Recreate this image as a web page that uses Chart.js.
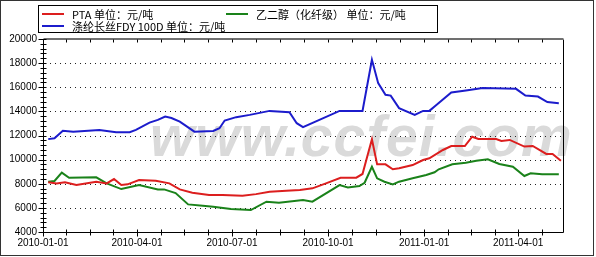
<!DOCTYPE html>
<html>
<head>
<meta charset="utf-8">
<script src="https://cdn.jsdelivr.net/npm/chart.js@4"></script>
<style>
  html, body { margin: 0; padding: 0; background: #fff; }
  #wrap { position: relative; width: 596px; height: 257px; overflow: hidden; }
  #mark {
    position: absolute; left: 150px; top: 103px; z-index: 0;
    font: italic bold 57px "Liberation Sans", Arial, sans-serif;
    color: #dadada; white-space: nowrap; letter-spacing: 1px;
  }
  #chart { position: absolute; left: 0; top: 0; z-index: 1; }
  #legend {
    position: absolute; left: 38px; top: 5px; width: 398px; height: 26px; z-index: 2;
    border: 1px solid #000; background: #fff;
    font: 11px "Noto Sans CJK SC", sans-serif; color: #000;
  }
  .item { position: absolute; height: 12px; line-height: 12px; white-space: nowrap; }
  .item i { position: absolute; left: 0; top: 5px; width: 22px; height: 2px; }
  .item span { position: absolute; left: 30px; top: 0; }
</style>
</head>
<body>
<div id="wrap">
  <div id="mark">www.ccfei.com</div>
  <canvas id="chart" width="596" height="257"></canvas>
  <div id="legend"></div>
</div>
<script>
// days are counted from 2010-01-01
const START = Date.UTC(2010, 0, 1);
const dayOf = (s) => {
  const p = s.split('-').map(Number);
  return (Date.UTC(p[0], p[1] - 1, p[2]) - START) / 86400000;
};

const seriesNames = ['PTA 单位：元/吨', '乙二醇（化纤级） 单位：元/吨', '涤纶长丝FDY 100D 单位：元/吨'];
const seriesColors = ['#dc1e1e', '#1a821a', '#1c1ccc'];

const ptaDates = ['2010-01-06', '2010-01-14', '2010-01-22', '2010-02-02', '2010-02-21', '2010-03-03', '2010-03-10',
  '2010-03-17', '2010-03-23', '2010-04-03', '2010-04-19', '2010-05-02', '2010-05-12', '2010-05-24', '2010-06-09',
  '2010-06-22', '2010-07-11', '2010-07-24', '2010-08-06', '2010-08-22', '2010-09-04', '2010-09-16', '2010-09-29',
  '2010-10-13', '2010-10-28', '2010-11-03', '2010-11-12', '2010-11-17', '2010-11-25', '2010-12-02', '2010-12-08',
  '2010-12-21', '2010-12-31', '2011-01-06', '2011-01-19', '2011-01-27', '2011-02-09', '2011-02-16', '2011-02-22',
  '2011-03-11', '2011-03-16', '2011-03-24', '2011-04-07', '2011-04-15', '2011-04-28', '2011-05-04', '2011-05-12'];
const ptaValues = [8120, 8030, 8120, 7890, 8170, 8030, 8390,
  7890, 7950, 8310, 8250, 8030, 7530, 7250, 7060,
  7060, 7000, 7140, 7330, 7420, 7480, 7620, 8030,
  8500, 8500, 8810, 11690, 9610, 9610, 9200, 9280,
  9550, 9970, 10110, 10800, 11130, 11130, 11900, 11710,
  11710, 11550, 11630, 11080, 11130, 10470, 10470, 9910];

const megDates = ['2010-01-06', '2010-01-12', '2010-01-19', '2010-01-26', '2010-02-21', '2010-03-03', '2010-03-17',
  '2010-04-03', '2010-04-21', '2010-04-27', '2010-05-08', '2010-05-20', '2010-06-03', '2010-06-13', '2010-06-30',
  '2010-07-19', '2010-08-03', '2010-08-15', '2010-09-07', '2010-09-16', '2010-10-12', '2010-10-20', '2010-10-31',
  '2010-11-05', '2010-11-12', '2010-11-17', '2010-11-24', '2010-12-02', '2010-12-08', '2010-12-21', '2011-01-03',
  '2011-01-11', '2011-01-15', '2011-01-28', '2011-02-10', '2011-02-20', '2011-03-03', '2011-03-14', '2011-03-27',
  '2011-04-07', '2011-04-13', '2011-04-24', '2011-05-10'];
const megValues = [8170, 8230, 8920, 8500, 8530, 8030, 7560,
  7890, 7530, 7530, 7230, 6290, 6170, 6090, 5900,
  5820, 6510, 6420, 6650, 6510, 7890, 7700, 7810,
  8080, 9410, 8450, 8170, 7950, 8170, 8450, 8720,
  8950, 9200, 9610, 9750, 9910, 10030, 9640, 9410,
  8640, 8860, 8780, 8780];

const fdyDates = ['2010-01-06', '2010-01-12', '2010-01-20', '2010-01-30', '2010-02-24', '2010-03-12', '2010-03-25',
  '2010-03-31', '2010-04-13', '2010-04-21', '2010-04-28', '2010-05-04', '2010-05-12', '2010-05-26', '2010-06-13',
  '2010-06-19', '2010-06-24', '2010-07-05', '2010-07-18', '2010-08-06', '2010-08-25', '2010-09-01', '2010-09-07',
  '2010-10-12', '2010-11-03', '2010-11-12', '2010-11-18', '2010-11-25', '2010-11-30', '2010-12-08', '2010-12-23',
  '2010-12-31', '2011-01-06', '2011-01-11', '2011-01-27', '2011-02-10', '2011-02-26', '2011-03-30', '2011-04-08',
  '2011-04-20', '2011-04-29', '2011-05-10'];
const fdyValues = [11700, 11770, 12400, 12320, 12460, 12270, 12270,
  12460, 13070, 13290, 13570, 13450, 13150, 12320, 12380,
  12600, 13240, 13520, 13710, 14040, 13930, 13020, 12700,
  14040, 14040, 18280, 16340, 15370, 15310, 14270, 13710,
  14040, 14040, 14400, 15560, 15730, 15930, 15870, 15310,
  15230, 14770, 14680];

const tickDates = ['2010-01-01', '2010-04-01', '2010-07-01', '2010-10-01', '2011-01-01', '2011-04-01'];
const yTicks = [4000, 6000, 8000, 10000, 12000, 14000, 16000, 18000, 20000];

const toPoints = (dates, values) => dates.map((d, i) => ({ x: dayOf(d), y: values[i] }));
const tickDays = tickDates.map(dayOf);
const xMax = 498;

// legend as html, laid out like the original two-column box
const legendPos = [[3, 2], [187, 2], [3, 14]];
document.getElementById('legend').innerHTML = seriesNames.map((name, k) =>
  `<div class="item" style="left:${legendPos[k][0]}px;top:${legendPos[k][1]}px">` +
  `<i style="background:${seriesColors[k]}"></i><span>${name}</span></div>`).join('');

const framePlugin = {
  id: 'frame',
  beforeDatasetsDraw(chart) {
    const { ctx, chartArea: a, scales: { y } } = chart;
    ctx.save();
    // dotted grid
    ctx.strokeStyle = '#222';
    ctx.lineWidth = 1;
    ctx.setLineDash([1, 4]);
    yTicks.slice(1, -1).forEach((v) => {
      const py = Math.round(y.getPixelForValue(v)) + 0.5;
      ctx.beginPath();
      ctx.moveTo(a.left + 2, py);
      ctx.lineTo(a.right, py);
      ctx.stroke();
    });
    ctx.restore();
  },
  afterDatasetsDraw(chart) {
    const { ctx, chartArea: a, scales: { x, y } } = chart;
    const L = Math.round(a.left) + 0.5, R = Math.round(a.right) + 0.5;
    const T = Math.round(a.top) + 0.5, B = Math.round(a.bottom) + 0.5;
    ctx.save();
    ctx.lineWidth = 1;
    ctx.strokeStyle = '#000';
    ctx.beginPath();
    ctx.moveTo(L, T); ctx.lineTo(L, B); ctx.lineTo(R, B); ctx.lineTo(R, T);
    ctx.stroke();
    ctx.strokeStyle = '#707070';
    ctx.lineWidth = 2;
    ctx.beginPath();
    ctx.moveTo(L, T - 0.5); ctx.lineTo(R, T - 0.5);
    ctx.stroke();

    // x ticks: quarters plus three between
    ctx.lineWidth = 1;
    ctx.strokeStyle = '#000';
    const xs = [];
    for (let i = 0; i < tickDays.length; i++) {
      const d0 = tickDays[i];
      const d1 = i + 1 < tickDays.length ? tickDays[i + 1] : d0 + 90;
      xs.push([d0, true]);
      for (let k = 1; k < 4; k++) xs.push([d0 + (d1 - d0) * k / 4, false]);
    }
    xs.forEach(([d, major]) => {
      if (d > xMax) return;
      const px = Math.round(x.getPixelForValue(d)) + 0.5;
      ctx.beginPath();
      ctx.moveTo(px, B - 3); ctx.lineTo(px, B + (major ? 4 : 3));
      ctx.moveTo(px, T); ctx.lineTo(px, T + 3);
      ctx.stroke();
    });

    // y ticks, minor every 400
    for (let v = 4000; v <= 20000; v += 400) {
      const major = v % 2000 === 0;
      const py = Math.round(y.getPixelForValue(v)) + 0.5;
      ctx.beginPath();
      ctx.moveTo(L - (major ? 5 : 3), py); ctx.lineTo(L + 3, py);
      ctx.stroke();
    }

    // outer frame of the picture
    ctx.strokeStyle = '#333';
    ctx.strokeRect(0.5, 0.5, 593, 255);
    ctx.restore();
  }
};

new Chart(document.getElementById('chart'), {
  type: 'line',
  data: {
    datasets: seriesNames.map((name, k) => ({
      label: name,
      data: toPoints([ptaDates, megDates, fdyDates][k], [ptaValues, megValues, fdyValues][k]),
      borderColor: seriesColors[k]
    }))
  },
  options: {
    responsive: false,
    devicePixelRatio: 1,
    animation: false,
    layout: { padding: { top: 39, right: 33, left: 0, bottom: 0 } },
    elements: {
      line: { borderWidth: 2, tension: 0 },
      point: { radius: 0, hoverRadius: 0 }
    },
    plugins: { legend: { display: false }, tooltip: { enabled: false } },
    scales: {
      x: {
        type: 'linear',
        min: 0,
        max: xMax,
        grid: { display: false, drawTicks: false },
        border: { display: false },
        afterBuildTicks: (s) => { s.ticks = tickDays.map((v) => ({ value: v })); },
        afterFit: (s) => { s.height = 25; },
        ticks: {
          autoSkip: false,
          maxRotation: 0,
          padding: 5,
          color: '#000',
          font: { family: '"Liberation Sans", Arial, sans-serif', size: 10 },
          callback: (v) => tickDates[tickDays.indexOf(v)] || ''
        }
      },
      y: {
        min: 4000,
        max: 20000,
        grid: { display: false, drawTicks: false },
        border: { display: false },
        afterBuildTicks: (s) => { s.ticks = yTicks.map((v) => ({ value: v })); },
        afterFit: (s) => { s.width = 43; },
        ticks: {
          padding: 6,
          color: '#000',
          font: { family: '"Liberation Sans", Arial, sans-serif', size: 10 },
          callback: (v) => String(v)
        }
      }
    }
  },
  plugins: [framePlugin]
});
</script>
</body>
</html>
